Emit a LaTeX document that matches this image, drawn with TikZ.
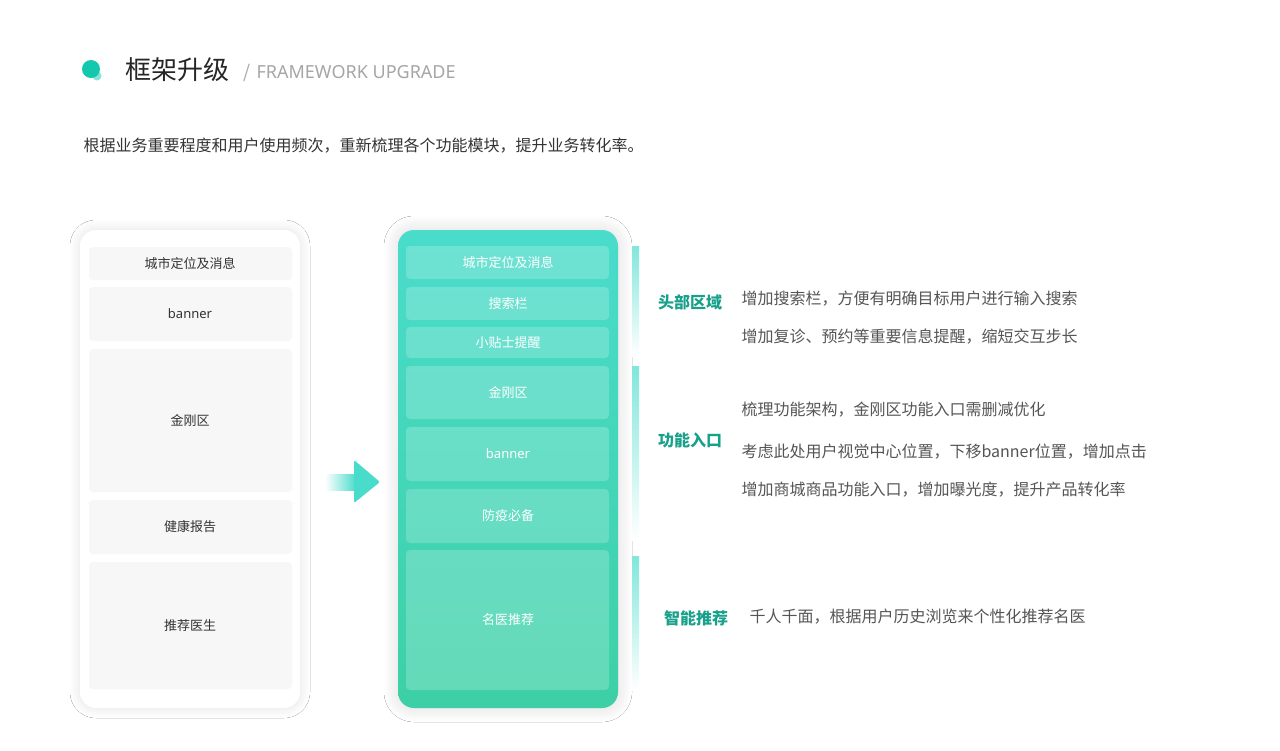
\documentclass[tikz,border=0pt]{standalone}
\usepackage{fontspec}
\setmainfont{Noto Sans CJK SC}
\newfontfamily\latinf{Noto Sans}
\usetikzlibrary{shadows.blur}
\definecolor{tealA}{HTML}{4ADCCB}
\definecolor{tealB}{HTML}{3DD0A6}
\definecolor{dot}{HTML}{14C8AE}
\definecolor{lbl}{HTML}{17A08A}
\definecolor{txt}{HTML}{555555}
\definecolor{gbox}{HTML}{F7F7F7}
\tikzset{
  lbox/.style={fill=gbox,rounded corners=4pt,draw=none},
  rbox/.style={fill=white,fill opacity=0.2,rounded corners=4pt,draw=none},
  ltxt/.style={font=\fontsize{13}{15}\selectfont,text=black!80},
  rtxt/.style={font=\fontsize{13}{15}\selectfont,text=white},
  sec/.style={font=\fontsize{16}{18}\selectfont\bfseries,text=lbl},
  desc/.style={font=\fontsize{16}{18}\selectfont,text=txt,anchor=west},
}
\begin{document}
\begin{tikzpicture}[x=1pt,y=-1pt]
\useasboundingbox[fill=white] (0,0) rectangle (1280,750);
% title
\fill[dot!50] (97,76) circle (4.5);
\fill[dot] (91,69) circle (9);
\node[anchor=west,font=\fontsize{26}{28}\selectfont,text=black!85] (t) at (122,70) {框架升级};
\node[anchor=west,font=\fontsize{18}{20}\selectfont,text=black!35] (sub) at (240,73) {/\hspace{6pt}{\latinf FRAMEWORK UPGRADE}};
\node[anchor=west,font=\fontsize{16}{18}\selectfont,text=black!80] (d) at (80,146) {根据业务重要程度和用户使用频次，重新梳理各个功能模块，提升业务转化率。};
% left phone
\fill[white,rounded corners=16pt,blur shadow={shadow blur steps=10,shadow xshift=0pt,shadow yshift=0pt,shadow blur radius=10pt,shadow opacity=12}] (80,230) rectangle (300,708);
\foreach \a/\b/\t [count=\i] in {247/280/城市定位及消息,287/341/{\latinf banner},349/492/金刚区,500/554/健康报告,562/689/推荐医生}{
  \fill[lbox] (89,\a) rectangle (292,\b);
  \node[ltxt] (l\i) at (190,{(\a+\b)/2}) {\t};
}
% arrow
\shade[left color=white, right color=tealA] (325,474) rectangle (356,490);
\fill[tealA,rounded corners=2pt] (354,460) -- (380,482) -- (354,503) -- cycle;
% right phone
\shade[top color=tealA,bottom color=tealB,rounded corners=16pt,blur shadow={shadow blur steps=10,shadow xshift=0pt,shadow yshift=0pt,shadow blur radius=14pt,shadow opacity=15}] (398,230) rectangle (618,708);
\foreach \a/\b/\t [count=\i] in {246/279/城市定位及消息,287/320/搜索栏,327/358/小贴士提醒,366/419/金刚区,427/481/{\latinf banner},489/543/防疫必备,550/690/名医推荐}{
  \fill[rbox] (406,\a) rectangle (609,\b);
  \node[rtxt] (r\i) at (508,{(\a+\b)/2}) {\t};
}
% bars
\foreach \a/\b in {246/356,366/540,556/690}{
  \shade[top color=tealA!70,bottom color=white] (632,\a) rectangle (639,\b);
}
\node[sec] (s1) at (690,302) {头部区域};
\node[sec] (s2) at (690,440) {功能入口};
\node[sec] (s3) at (696,618) {智能推荐};
\node[desc] at (738,299) {增加搜索栏，方便有明确目标用户进行输入搜索};
\node[desc] at (738,337) {增加复诊、预约等重要信息提醒，缩短交互步长};
\node[desc] at (738,410) {梳理功能架构，金刚区功能入口需删减优化};
\node[desc] at (738,452) {考虑此处用户视觉中心位置，下移banner位置，增加点击};
\node[desc] at (738,490) {增加商城商品功能入口，增加曝光度，提升产品转化率};
\node[desc] at (746,617) {千人千面，根据用户历史浏览来个性化推荐名医};
\end{tikzpicture}
\end{document}
